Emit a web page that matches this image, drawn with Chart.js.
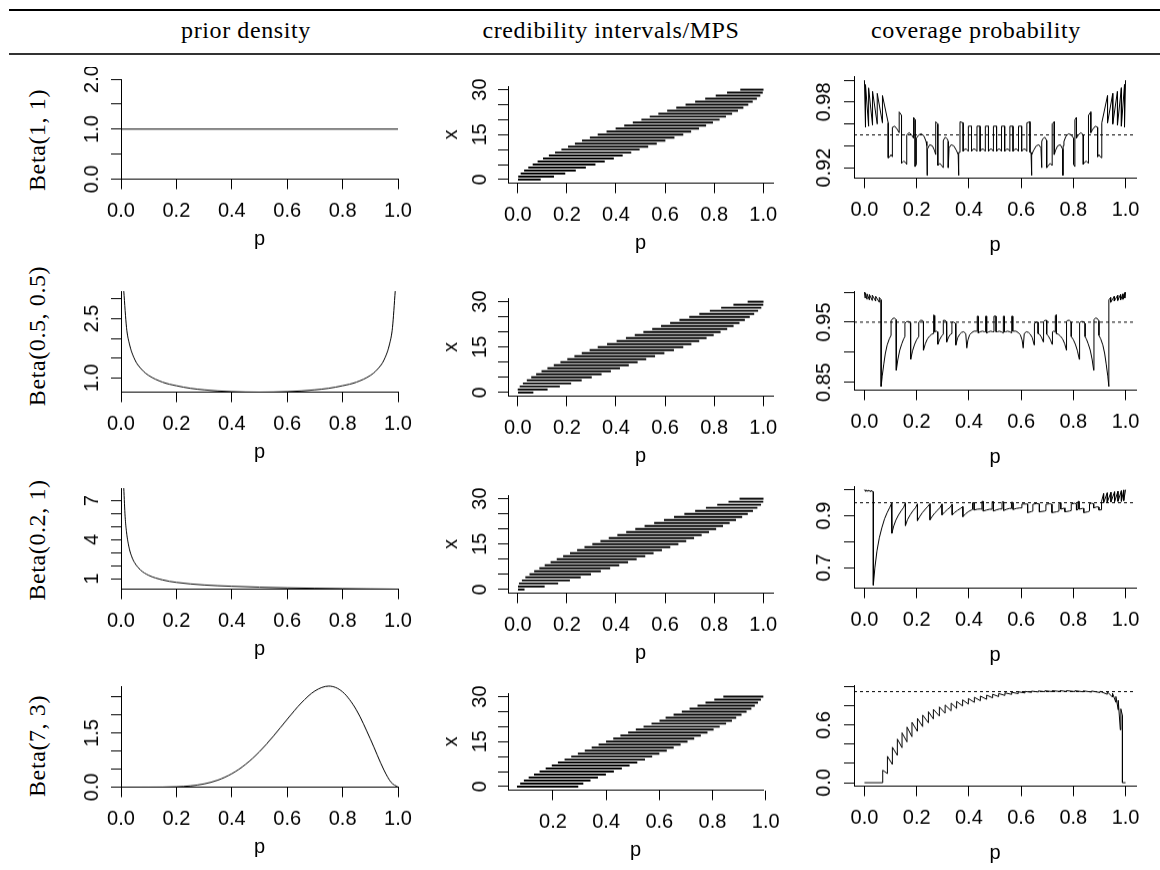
<!DOCTYPE html>
<html>
<head>
<meta charset="utf-8">
<script src="https://cdn.jsdelivr.net/npm/chart.js@4.4.1/dist/chart.umd.min.js"></script>
<style>
  body { margin: 0; background: #fff; width: 1160px; height: 870px; position: relative; overflow: hidden; }
  .rule { position: absolute; left: 9px; right: 0; background: #000; }
  .head { position: absolute; top: 17px; line-height: 24px; font: 24px "Liberation Serif", serif; letter-spacing: 0.6px; white-space: nowrap; transform: translateX(-50%); }
  .rowlab { position: absolute; left: 37px; line-height: 24px; font: 24px "Liberation Serif", serif; letter-spacing: 0.6px; white-space: nowrap; transform: translate(-50%, -50%) rotate(-90deg); }
  canvas { position: absolute; }
</style>
</head>
<body>
<div class="rule" style="top:9px;height:2px"></div>
<div class="rule" style="top:53px;height:2px;background:#333"></div>
<script>
// ---- text ----
const colTitles = ["prior density", "credibility intervals/MPS", "coverage probability"];
const priorNames = ["Beta(1, 1)", "Beta(0.5, 0.5)", "Beta(0.2, 1)", "Beta(7, 3)"];

// ---- prior densities (p, density) ----
const dens1 = [[0, 1], [1, 1]];
const dens2 = [[0.01, 3.20], [0.02, 2.27], [0.03, 1.87], [0.05, 1.46], [0.075, 1.21], [0.1, 1.06], [0.15, 0.89],
  [0.2, 0.80], [0.25, 0.735], [0.3, 0.695], [0.35, 0.667], [0.4, 0.650], [0.45, 0.640], [0.5, 0.637],
  [0.55, 0.640], [0.6, 0.650], [0.65, 0.667], [0.7, 0.695], [0.75, 0.735], [0.8, 0.80], [0.85, 0.89],
  [0.9, 1.06], [0.925, 1.21], [0.95, 1.46], [0.97, 1.87], [0.98, 2.27], [0.99, 3.20]];
const dens3 = [[0.01, 7.96], [0.015, 5.74], [0.02, 4.57], [0.03, 3.31], [0.04, 2.63], [0.05, 2.20], [0.07, 1.68],
  [0.1, 1.26], [0.15, 0.91], [0.2, 0.72], [0.3, 0.52], [0.4, 0.42], [0.5, 0.35], [0.6, 0.30], [0.7, 0.266],
  [0.8, 0.239], [0.9, 0.218], [1.0, 0.2]];
const dens4 = [[0, 0], [0.1, 0.0002], [0.2, 0.010], [0.25, 0.035], [0.3, 0.090], [0.35, 0.196], [0.4, 0.372],
  [0.45, 0.633], [0.5, 0.984], [0.55, 1.413], [0.6, 1.881], [0.65, 2.328], [0.7, 2.668], [0.75, 2.803],
  [0.8, 2.642], [0.85, 2.138], [0.9, 1.339], [0.95, 0.463], [0.975, 0.135], [1.0, 0]];

// ---- credibility intervals, x = 0..30 ----
const counts = [0, 1, 2, 3, 4, 5, 6, 7, 8, 9, 10, 11, 12, 13, 14, 15, 16, 17, 18, 19, 20, 21, 22, 23, 24, 25, 26, 27, 28, 29, 30];
const ciLo1 = [0.000, 0.003, 0.013, 0.027, 0.044, 0.062, 0.082, 0.104, 0.128, 0.153, 0.179, 0.206, 0.234, 0.263, 0.295, 0.327,
  0.363, 0.400, 0.435, 0.470, 0.505, 0.539, 0.574, 0.610, 0.647, 0.685, 0.724, 0.765, 0.808, 0.854, 0.908];
const ciHi1 = [0.092, 0.146, 0.192, 0.235, 0.276, 0.315, 0.353, 0.390, 0.426, 0.461, 0.495, 0.530, 0.565, 0.600, 0.637, 0.673,
  0.705, 0.737, 0.766, 0.794, 0.821, 0.847, 0.872, 0.896, 0.918, 0.938, 0.956, 0.973, 0.987, 0.997, 1.000];
const ciLo2 = [0.000, 0.001, 0.009, 0.022, 0.038, 0.056, 0.076, 0.098, 0.122, 0.148, 0.175, 0.203, 0.232, 0.262, 0.294, 0.327,
  0.365, 0.404, 0.442, 0.478, 0.513, 0.549, 0.585, 0.622, 0.660, 0.700, 0.741, 0.784, 0.830, 0.880, 0.938];
const ciHi2 = [0.062, 0.120, 0.170, 0.216, 0.259, 0.300, 0.340, 0.378, 0.415, 0.451, 0.487, 0.522, 0.558, 0.596, 0.635, 0.673,
  0.706, 0.738, 0.768, 0.797, 0.825, 0.852, 0.878, 0.902, 0.924, 0.944, 0.962, 0.978, 0.991, 0.999, 1.000];
const ciLo3 = [0.000, 0.000, 0.006, 0.018, 0.032, 0.049, 0.068, 0.089, 0.111, 0.135, 0.160, 0.186, 0.214, 0.243, 0.273, 0.305,
  0.338, 0.372, 0.407, 0.443, 0.480, 0.518, 0.557, 0.597, 0.638, 0.680, 0.724, 0.768, 0.814, 0.860, 0.905];
const ciHi3 = [0.026, 0.108, 0.163, 0.211, 0.255, 0.297, 0.337, 0.375, 0.412, 0.448, 0.483, 0.518, 0.552, 0.586, 0.620, 0.653,
  0.685, 0.717, 0.748, 0.778, 0.807, 0.835, 0.862, 0.888, 0.913, 0.936, 0.957, 0.975, 0.990, 0.999, 1.000];
const ciLo4 = [0.066, 0.078, 0.092, 0.110, 0.130, 0.151, 0.174, 0.197, 0.220, 0.245, 0.270, 0.295, 0.321, 0.347, 0.373, 0.401,
  0.428, 0.455, 0.484, 0.513, 0.542, 0.572, 0.602, 0.625, 0.655, 0.686, 0.715, 0.745, 0.775, 0.808, 0.842];
const ciHi4 = [0.294, 0.313, 0.340, 0.368, 0.398, 0.428, 0.458, 0.487, 0.516, 0.545, 0.572, 0.599, 0.627, 0.653, 0.679, 0.705,
  0.730, 0.755, 0.780, 0.803, 0.826, 0.850, 0.872, 0.888, 0.908, 0.927, 0.945, 0.958, 0.970, 0.981, 0.990];

// ---- coverage probability (p, coverage) ----
const cov1 = [[0.000,1.000],[0.004,0.957],[0.004,0.996],[0.016,0.958],[0.016,0.993],[0.031,0.959],[0.031,0.990],[0.049,0.960],[0.049,0.988],[0.069,0.961],[0.069,0.986],[0.091,0.961],
  [0.091,0.929],[0.097,0.930],[0.102,0.932],[0.107,0.930],[0.107,0.957],[0.116,0.958],[0.126,0.955],[0.133,0.952],[0.133,0.971],[0.142,0.968],
  [0.142,0.924],[0.150,0.926],[0.157,0.925],[0.162,0.923],[0.162,0.950],[0.171,0.952],[0.181,0.950],[0.188,0.947],[0.188,0.966],[0.194,0.964],
  [0.194,0.921],[0.199,0.923],[0.199,0.947],[0.208,0.950],[0.218,0.951],[0.228,0.949],[0.236,0.944],[0.239,0.940],
  [0.240,0.913],[0.241,0.937],[0.250,0.941],[0.260,0.940],[0.268,0.936],[0.273,0.932],[0.273,0.962],[0.281,0.960],
  [0.281,0.922],[0.288,0.924],[0.296,0.922],[0.302,0.920],[0.302,0.945],[0.310,0.948],[0.318,0.946],[0.321,0.944],[0.321,0.920],[0.324,0.938],[0.332,0.941],[0.342,0.940],[0.352,0.936],[0.359,0.932],
  [0.360,0.913],[0.362,0.934],[0.366,0.934],[0.366,0.962],[0.378,0.961],[0.378,0.935],[0.384,0.937],[0.391,0.937],[0.398,0.935],
  [0.398,0.958],[0.410,0.958],[0.410,0.935],[0.416,0.937],[0.424,0.937],[0.431,0.935],
  [0.431,0.958],[0.443,0.958],[0.443,0.935],[0.449,0.937],[0.456,0.937],[0.463,0.935],
  [0.463,0.958],[0.475,0.958],[0.475,0.935],[0.481,0.937],[0.488,0.937],[0.494,0.935],
  [0.494,0.958],[0.506,0.958],
  [0.506,0.935],[0.512,0.937],[0.519,0.937],[0.525,0.935],[0.525,0.958],[0.537,0.958],
  [0.537,0.935],[0.544,0.937],[0.551,0.937],[0.557,0.935],[0.557,0.958],[0.569,0.958],
  [0.569,0.935],[0.576,0.937],[0.584,0.937],[0.590,0.935],[0.590,0.958],[0.602,0.958],
  [0.602,0.935],[0.609,0.937],[0.616,0.937],[0.622,0.935],[0.622,0.961],[0.634,0.962],[0.634,0.934],[0.638,0.934],[0.640,0.913],
  [0.641,0.932],[0.648,0.936],[0.658,0.940],[0.668,0.941],[0.676,0.938],[0.679,0.920],[0.679,0.944],[0.682,0.946],[0.690,0.948],[0.698,0.945],
  [0.698,0.920],[0.704,0.922],[0.712,0.924],[0.719,0.922],[0.719,0.960],[0.727,0.962],
  [0.727,0.932],[0.732,0.936],[0.740,0.940],[0.750,0.941],[0.759,0.937],[0.760,0.913],
  [0.761,0.940],[0.764,0.944],[0.772,0.949],[0.782,0.951],[0.792,0.950],[0.801,0.947],[0.801,0.923],[0.806,0.921],
  [0.806,0.964],[0.812,0.966],[0.812,0.947],[0.819,0.950],[0.829,0.952],[0.838,0.950],[0.838,0.923],[0.843,0.925],[0.850,0.926],[0.858,0.924],
  [0.858,0.968],[0.867,0.971],[0.867,0.952],[0.874,0.955],[0.884,0.958],[0.893,0.957],[0.893,0.930],[0.898,0.932],[0.903,0.930],[0.909,0.929],
  [0.909,0.961],[0.931,0.986],[0.931,0.961],[0.951,0.988],[0.951,0.960],[0.969,0.990],[0.969,0.959],[0.984,0.993],[0.984,0.958],[0.996,0.996],[0.996,0.957],[1.000,1.000]];
const cov2 = [[0.000,1.000],[0.003,0.990],[0.003,0.999],[0.010,0.988],[0.010,0.997],[0.019,0.987],[0.019,0.996],[0.030,0.986],[0.030,0.995],[0.043,0.985],[0.043,0.993],[0.057,0.983],[0.057,0.991],[0.064,0.987],
  [0.064,0.843],[0.068,0.860],[0.074,0.880],[0.080,0.898],[0.087,0.912],[0.095,0.922],[0.102,0.928],
  [0.102,0.952],[0.108,0.956],[0.115,0.957],[0.121,0.954],
  [0.122,0.870],[0.128,0.888],[0.135,0.903],[0.143,0.914],[0.150,0.922],[0.155,0.926],
  [0.155,0.948],[0.162,0.951],[0.170,0.951],[0.176,0.949],
  [0.177,0.888],[0.184,0.902],[0.192,0.913],[0.200,0.921],[0.208,0.926],
  [0.208,0.950],[0.215,0.953],[0.222,0.953],[0.226,0.951],
  [0.226,0.903],[0.233,0.914],[0.241,0.922],[0.250,0.927],[0.258,0.930],[0.265,0.931],
  [0.265,0.962],[0.269,0.961],[0.269,0.934],[0.275,0.935],[0.280,0.934],
  [0.281,0.913],[0.288,0.921],[0.296,0.927],[0.302,0.930],[0.302,0.953],[0.309,0.953],[0.314,0.951],
  [0.315,0.917],[0.322,0.925],[0.330,0.930],[0.335,0.931],[0.335,0.950],[0.342,0.950],[0.349,0.948],
  [0.350,0.912],[0.357,0.924],[0.365,0.930],[0.372,0.933],[0.380,0.934],[0.388,0.931],
  [0.392,0.907],[0.396,0.920],[0.403,0.929],[0.412,0.933],[0.420,0.935],[0.428,0.935],[0.432,0.935],
  [0.432,0.960],[0.436,0.960],[0.436,0.932],[0.443,0.934],[0.452,0.935],[0.460,0.934],[0.464,0.934],
  [0.464,0.960],[0.468,0.960],[0.468,0.932],[0.476,0.934],[0.484,0.935],[0.491,0.934],[0.496,0.934],
  [0.496,0.960],[0.504,0.960],
  [0.504,0.934],[0.509,0.934],[0.516,0.935],[0.524,0.934],[0.532,0.932],[0.532,0.960],[0.536,0.960],
  [0.536,0.934],[0.540,0.934],[0.548,0.935],[0.557,0.934],[0.564,0.932],[0.564,0.960],[0.568,0.960],
  [0.568,0.935],[0.572,0.935],[0.580,0.935],[0.588,0.933],[0.597,0.929],[0.604,0.920],[0.608,0.907],
  [0.612,0.931],[0.620,0.934],[0.628,0.933],[0.635,0.930],[0.643,0.924],[0.650,0.912],
  [0.651,0.948],[0.658,0.950],[0.665,0.950],[0.665,0.931],[0.670,0.930],[0.678,0.925],[0.685,0.917],
  [0.686,0.951],[0.691,0.953],[0.698,0.953],[0.698,0.930],[0.704,0.927],[0.712,0.921],[0.719,0.913],
  [0.720,0.934],[0.725,0.935],[0.731,0.934],[0.731,0.961],[0.735,0.962],
  [0.735,0.931],[0.742,0.930],[0.750,0.927],[0.759,0.922],[0.767,0.914],[0.774,0.903],
  [0.774,0.951],[0.778,0.953],[0.785,0.953],[0.792,0.950],
  [0.792,0.926],[0.800,0.921],[0.808,0.913],[0.816,0.902],[0.823,0.888],
  [0.824,0.949],[0.830,0.951],[0.838,0.951],[0.845,0.948],
  [0.845,0.926],[0.850,0.922],[0.857,0.914],[0.865,0.903],[0.872,0.888],[0.878,0.870],
  [0.879,0.954],[0.885,0.957],[0.892,0.956],[0.898,0.952],
  [0.898,0.928],[0.905,0.922],[0.913,0.912],[0.920,0.898],[0.926,0.880],[0.932,0.860],[0.936,0.843],
  [0.936,0.987],[0.943,0.991],[0.943,0.983],[0.957,0.993],[0.957,0.985],[0.970,0.995],[0.970,0.986],[0.981,0.996],[0.981,0.987],[0.990,0.997],[0.990,0.988],[0.997,0.999],[0.997,0.990],[1.000,1.000]];
const cov3 = [[0.000,1.000],[0.005,0.993],[0.005,0.999],[0.014,0.994],[0.014,0.998],[0.025,0.993],[0.025,0.997],[0.034,0.992],
  [0.034,0.633],[0.040,0.700],[0.048,0.765],[0.057,0.815],[0.067,0.855],[0.077,0.888],[0.087,0.912],[0.096,0.930],[0.103,0.945],[0.105,0.951],
  [0.105,0.832],[0.112,0.860],[0.120,0.882],[0.130,0.902],[0.140,0.918],[0.150,0.932],[0.157,0.949],
  [0.157,0.862],[0.165,0.885],[0.175,0.903],[0.185,0.918],[0.195,0.930],[0.203,0.945],
  [0.203,0.881],[0.212,0.897],[0.222,0.912],[0.233,0.925],[0.243,0.936],[0.251,0.946],
  [0.251,0.884],[0.260,0.898],[0.270,0.911],[0.281,0.922],[0.290,0.932],[0.297,0.945],
  [0.297,0.903],[0.307,0.914],[0.318,0.924],[0.328,0.932],[0.336,0.944],
  [0.336,0.903],[0.346,0.913],[0.357,0.921],[0.368,0.928],[0.377,0.935],
  [0.377,0.896],[0.388,0.908],[0.400,0.917],[0.410,0.922],[0.414,0.924],
  [0.414,0.950],[0.420,0.950],[0.420,0.922],[0.432,0.925],[0.444,0.926],[0.450,0.925],
  [0.450,0.955],[0.455,0.955],[0.455,0.918],[0.468,0.922],[0.480,0.925],[0.489,0.925],
  [0.489,0.954],[0.494,0.954],[0.494,0.918],[0.507,0.923],[0.518,0.926],[0.527,0.926],
  [0.527,0.953],[0.533,0.953],[0.533,0.920],[0.545,0.925],[0.556,0.928],[0.563,0.928],
  [0.563,0.952],[0.569,0.951],[0.569,0.924],[0.582,0.928],[0.595,0.930],[0.603,0.930],
  [0.603,0.945],[0.625,0.945],[0.625,0.912],[0.640,0.916],[0.645,0.918],[0.645,0.944],[0.660,0.947],[0.670,0.945],
  [0.670,0.915],[0.690,0.918],[0.695,0.920],[0.695,0.944],[0.710,0.946],[0.718,0.944],
  [0.718,0.912],[0.735,0.915],[0.745,0.918],[0.745,0.947],[0.752,0.950],[0.752,0.925],[0.765,0.929],[0.768,0.930],
  [0.768,0.915],[0.785,0.918],[0.792,0.920],[0.792,0.945],[0.805,0.948],[0.812,0.945],[0.812,0.922],[0.818,0.924],
  [0.818,0.955],[0.822,0.955],[0.822,0.925],[0.835,0.928],[0.840,0.928],[0.840,0.912],[0.855,0.915],[0.862,0.918],
  [0.862,0.946],[0.870,0.948],[0.878,0.946],[0.878,0.930],[0.890,0.934],[0.898,0.933],[0.898,0.922],[0.908,0.923],
  [0.908,0.955],[0.916,0.985],[0.916,0.950],[0.930,0.988],[0.930,0.952],[0.944,0.990],[0.944,0.953],[0.958,0.992],
  [0.958,0.954],[0.971,0.994],[0.971,0.955],[0.984,0.996],[0.984,0.955],[0.993,0.999],[0.993,0.958],[1.000,1.000]];
const cov4 = [[0.000,0.000],[0.070,0.000],[0.070,0.130],[0.088,0.095],[0.088,0.275],[0.107,0.190],[0.107,0.370],[0.126,0.285],
  [0.126,0.455],[0.144,0.365],[0.144,0.520],[0.163,0.425],[0.163,0.580],[0.182,0.480],[0.182,0.630],[0.203,0.535],
  [0.203,0.670],[0.223,0.585],[0.223,0.705],[0.245,0.625],[0.245,0.740],[0.264,0.665],[0.264,0.765],[0.287,0.695],
  [0.287,0.790],[0.309,0.725],[0.309,0.810],[0.332,0.750],[0.332,0.830],[0.353,0.775],[0.353,0.848],[0.376,0.800],
  [0.376,0.864],[0.398,0.820],[0.398,0.878],[0.421,0.838],[0.421,0.891],[0.444,0.855],[0.444,0.903],[0.468,0.870],
  [0.468,0.913],[0.491,0.885],[0.491,0.922],[0.514,0.898],[0.514,0.930],[0.538,0.910],[0.538,0.937],[0.564,0.921],
  [0.564,0.943],[0.589,0.929],[0.589,0.948],[0.615,0.936],[0.615,0.952],[0.640,0.942],[0.640,0.955],[0.666,0.946],
  [0.666,0.957],[0.691,0.949],[0.691,0.959],[0.719,0.950],[0.719,0.960],[0.749,0.951],[0.749,0.960],[0.774,0.951],
  [0.774,0.960],[0.806,0.950],[0.806,0.959],[0.838,0.948],[0.838,0.958],[0.870,0.945],[0.870,0.956],[0.902,0.940],
  [0.902,0.953],[0.930,0.922],[0.930,0.948],[0.950,0.892],[0.950,0.933],[0.963,0.838],[0.963,0.898],[0.972,0.760],
  [0.972,0.860],[0.980,0.550],[0.982,0.770],[0.988,0.700],[0.988,0.000],[1.000,0.000]];
const nominal = 0.95;

// ---- axis ticks ----
const pTicks = [0, 0.2, 0.4, 0.6, 0.8, 1.0];
const pLabels = ["0.0", "0.2", "0.4", "0.6", "0.8", "1.0"];
const pTicks4 = [0.2, 0.4, 0.6, 0.8, 1.0];
const pLabels4 = ["0.2", "0.4", "0.6", "0.8", "1.0"];
const ciTicks = [0, 5, 10, 15, 20, 25, 30];
const ciLabels = ["0", "", "", "15", "", "", "30"];
const densTicks = [[0, 0.5, 1, 1.5, 2], [1, 1.5, 2, 2.5, 3], [1, 2, 3, 4, 5, 6, 7], [0, 0.5, 1, 1.5, 2, 2.5]];
const densLabels = [["0.0", "", "1.0", "", "2.0"], ["1.0", "", "", "2.5", ""], ["1", "", "", "4", "", "", "7"], ["0.0", "", "", "1.5", "", ""]];
const covTicks = [[0.92, 0.94, 0.96, 0.98, 1.00], [0.85, 0.90, 0.95, 1.00], [0.7, 0.8, 0.9, 1.0], [0, 0.2, 0.4, 0.6, 0.8, 1.0]];
const covLabels = [["0.92", "", "", "0.98", ""], ["0.85", "", "0.95", ""], ["0.7", "", "0.9", ""], ["0.0", "", "", "0.6", "", ""]];

// ---- layout ----
const colX = [
  [[121, 398], [121, 398], [121, 398], [121, 398]],
  [[508, 773], [508, 773], [508, 773], [508, 763]],
  [[854, 1136], [854, 1136], [854, 1136], [854, 1136]]
];
const rowY = [
  [[79, 179], [291, 392], [488, 589], [686, 787]],
  [[86, 183], [298, 396], [495, 593], [693, 790]],
  [[76, 178], [291, 390], [486, 588], [685, 786]]
];
const headX = [246, 611, 976];
const rowLabY = [140, 336, 540, 746];
const yAxisW = [50, 69, 50];
const xAxisH = [71.5, 71.5, 78.5];
const yLabOff = [29, 28, 30];
const PAD_T = 12, PAD_R = 22;

const tickFont = { family: '"Liberation Sans", Arial, sans-serif', size: 20, lineHeight: 1.2 };
const mctx = document.createElement("canvas").getContext("2d");
mctx.font = '20px "Liberation Sans", Arial, sans-serif';
const textW = s => mctx.measureText(s).width;

colTitles.forEach((t, i) => {
  const d = document.createElement("div");
  d.className = "head"; d.textContent = t; d.style.left = headX[i] + "px";
  document.body.appendChild(d);
});
priorNames.forEach((t, i) => {
  const d = document.createElement("div");
  d.className = "rowlab"; d.textContent = t; d.style.top = rowLabY[i] + "px";
  document.body.appendChild(d);
});

const pts = arr => arr.map(([x, y]) => ({ x, y }));

function xScale(min, max, ticks, labels, xh) {
  return {
    type: "linear", position: "bottom", min, max, offset: false,
    afterBuildTicks: s => { s.ticks = ticks.map(v => ({ value: v })); },
    afterFit: s => { s.height = xh; s.paddingLeft = 0; s.paddingRight = 0; },
    ticks: { autoSkip: false, minRotation: 0, maxRotation: 0, padding: 9.5, color: "#000", font: tickFont, callback: (v, i) => labels[i] },
    grid: { drawOnChartArea: false, drawTicks: true, tickLength: 10, tickColor: "#000", tickWidth: 1, offset: false },
    border: { display: true, color: "#000", width: 1 },
    title: { display: true, text: "p", color: "#000", font: tickFont, padding: { top: 0, bottom: 0 } }
  };
}

function yScale(min, max, ticks, labels, yw, off, title) {
  const widest = Math.max(...labels.map(textW));
  return {
    type: "linear", position: "left", min, max, offset: false,
    afterBuildTicks: s => { s.ticks = ticks.map(v => ({ value: v })); },
    afterFit: s => { s.width = yw; s.paddingTop = 0; s.paddingBottom = 0; },
    ticks: { autoSkip: false, minRotation: 90, maxRotation: 90, crossAlign: "center", padding: off - 10 - widest / 2,
      color: "#000", font: tickFont, callback: (v, i) => labels[i] },
    grid: { drawOnChartArea: false, drawTicks: true, tickLength: 10, tickColor: "#000", tickWidth: 1, offset: false },
    border: { display: true, color: "#000", width: 1 },
    title: title ? { display: true, text: title, color: "#000", font: tickFont, padding: { top: 0, bottom: 0 } } : { display: false }
  };
}

function panel(col, row, type, datasets, scales, opts) {
  const [L, R] = colX[col][row];
  const [T, B] = rowY[col][row];
  const left = L - yAxisW[col], top = T - PAD_T;
  const w = R + PAD_R - left, h = B + xAxisH[col] - top;
  const cv = document.createElement("canvas");
  cv.width = w; cv.height = h;
  cv.style.left = left + "px"; cv.style.top = top + "px";
  cv.style.width = w + "px"; cv.style.height = h + "px";
  document.body.appendChild(cv);
  new Chart(cv, {
    type,
    data: { datasets },
    options: Object.assign({
      responsive: false, animation: false, events: [],
      layout: { padding: { top: PAD_T, right: PAD_R, left: 0, bottom: 0 } },
      plugins: { legend: { display: false }, tooltip: { enabled: false } },
      scales
    }, opts || {})
  });
}

const lineDs = (data, width, extra) => Object.assign({
  data: pts(data), borderColor: "#000", borderWidth: width, pointRadius: 0, tension: 0, clip: false
}, extra || {});

// prior density column
const dens = [dens1, dens2, dens3, dens4];
const densRange = [[0, 2], [0.637, 3.20], [0.2, 7.96], [0, 2.803]];
dens.forEach((d, r) => {
  panel(0, r, "line", [lineDs(d, 1, { cubicInterpolationMode: "monotone" })], {
    x: xScale(0, 1, pTicks, pLabels, xAxisH[0]),
    y: yScale(densRange[r][0], densRange[r][1], densTicks[r], densLabels[r], yAxisW[0], yLabOff[0])
  });
});

// credibility interval column: one horizontal segment per observed x
const ciLo = [ciLo1, ciLo2, ciLo3, ciLo4];
const ciHi = [ciHi1, ciHi2, ciHi3, ciHi4];
ciLo.forEach((lo, r) => {
  const hi = ciHi[r];
  const xr = r === 3 ? [0.031, 0.99] : [-0.04, 1.04];
  panel(1, r, "bar", [{
    data: counts.map((k, i) => ({ y: k, x: [lo[i], hi[i]] })),
    backgroundColor: "#000", borderWidth: 0, barThickness: 1.3, clip: false
  }], {
    x: xScale(xr[0], xr[1], r === 3 ? pTicks4 : pTicks, r === 3 ? pLabels4 : pLabels, xAxisH[1]),
    y: yScale(-1.2, 31.2, ciTicks, ciLabels, yAxisW[1], yLabOff[1], "x")
  }, { indexAxis: "y" });
});

// coverage column
const cov = [cov1, cov2, cov3, cov4];
const covRange = [[0.9105, 1.0038], [0.837, 1.0017], [0.6215, 1.014], [-0.036, 1.018]];
cov.forEach((d, r) => {
  panel(2, r, "line", [
    lineDs(d, 1),
    lineDs([[-0.04, nominal], [1.04, nominal]], 1, { borderDash: [3, 3] })
  ], {
    x: xScale(-0.04, 1.04, pTicks, pLabels, xAxisH[2]),
    y: yScale(covRange[r][0], covRange[r][1], covTicks[r], covLabels[r], yAxisW[2], yLabOff[2])
  });
});
</script>
</body>
</html>
